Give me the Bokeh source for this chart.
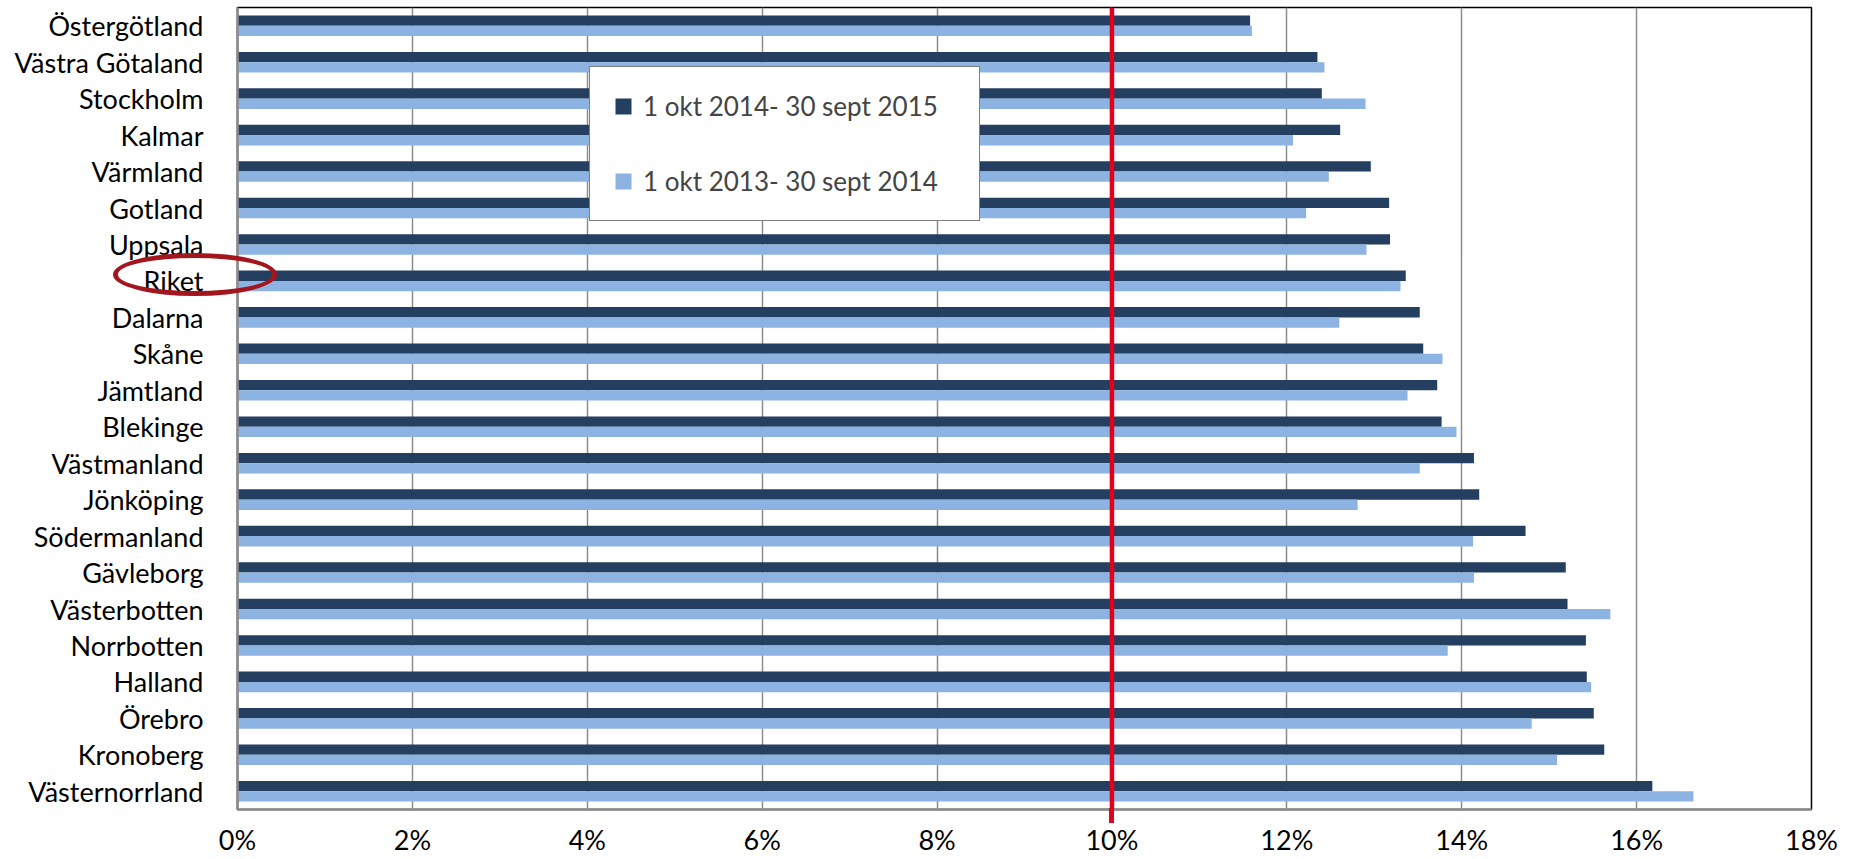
from bokeh.plotting import figure
from bokeh.models import (ColumnDataSource, FactorRange, Range1d, FixedTicker,
                          PrintfTickFormatter, Span, Legend, LegendItem, InlineStyleSheet)
from bokeh.transform import dodge
from bokeh.embed import file_html
from bokeh.resources import INLINE

regions = ["Östergötland", "Västra Götaland", "Stockholm", "Kalmar", "Värmland",
           "Gotland", "Uppsala", "Riket", "Dalarna", "Skåne", "Jämtland", "Blekinge",
           "Västmanland", "Jönköping", "Södermanland", "Gävleborg", "Västerbotten",
           "Norrbotten", "Halland", "Örebro", "Kronoberg", "Västernorrland"]
period_2015 = [11.58, 12.35, 12.40, 12.61, 12.96, 13.17, 13.18, 13.36, 13.52, 13.56, 13.72,
               13.77, 14.14, 14.20, 14.73, 15.19, 15.21, 15.42, 15.43, 15.51, 15.63, 16.18]
period_2014 = [11.60, 12.43, 12.90, 12.07, 12.48, 12.22, 12.91, 13.30, 12.60, 13.78, 13.38,
               13.94, 13.52, 12.81, 14.13, 14.14, 15.70, 13.84, 15.48, 14.80, 15.09, 16.65]
label_2015 = "1 okt 2014- 30 sept 2015"
label_2014 = "1 okt 2013- 30 sept 2014"
x_ticks = [0, 2, 4, 6, 8, 10, 12, 14, 16, 18]
target_line = 10
highlight = "Riket"

FONT = "Lato"
DARK = "#253F60"
LIGHT = "#8DB3E2"
RED = "#E2001A"

W, H = 1851, 859
BL, BR, BT, BB = 237, 40, 7, 50
X0, X1 = 0, 18

src = ColumnDataSource(dict(region=regions, cur=period_2015, prev=period_2014))
factors = list(reversed(regions))

p = figure(width=W, height=H, output_backend="svg", toolbar_location=None,
           y_range=FactorRange(factors=factors), x_range=Range1d(X0, X1),
           min_border_left=BL, min_border_right=BR, min_border_top=BT,
           min_border_bottom=BB)

r1 = p.hbar(y=dodge("region", 0.141, range=p.y_range), left=0, right="cur", height=0.283,
            source=src, fill_color=DARK, line_color=None)
r2 = p.hbar(y=dodge("region", -0.141, range=p.y_range), left=0, right="prev", height=0.283,
            source=src, fill_color=LIGHT, line_color=None)

p.outline_line_color = "black"
p.outline_line_width = 1.5
p.background_fill_color = "white"
p.border_fill_color = "white"

p.ygrid.grid_line_color = None
p.xgrid.grid_line_color = "#8C8C8C"
p.xgrid.grid_line_width = 1.5
p.xaxis.ticker = FixedTicker(ticks=x_ticks)
p.xgrid.ticker = FixedTicker(ticks=x_ticks)
p.xaxis.formatter = PrintfTickFormatter(format="%d%%")

for ax in (p.xaxis[0], p.yaxis[0]):
    ax.axis_line_color = "#8C8C8C"
    ax.axis_line_width = 2.5
    ax.major_tick_line_color = None
    ax.minor_tick_line_color = None
    ax.major_tick_out = 0
    ax.major_tick_in = 0
    ax.minor_tick_out = 0
    ax.major_label_text_font = FONT
    ax.major_label_text_font_size = "27px"
    ax.major_label_text_color = "black"
p.xaxis.major_label_standoff = 13
p.yaxis.major_label_standoff = 34

p.add_layout(Span(location=target_line, dimension="height", line_color=RED,
                  line_width=4.5))

legend = Legend(items=[LegendItem(label=label_2015, renderers=[r1]),
                       LegendItem(label=label_2014, renderers=[r2])],
                location=(352, 588), margin=0, padding=23, spacing=43,
                glyph_width=20, glyph_height=20, label_standoff=10, label_width=313,
                label_text_font=FONT, label_text_font_size="26px",
                border_line_color="black", border_line_width=1.5,
                background_fill_color="white", background_fill_alpha=1.0)
p.add_layout(legend)

# Overlays for the parts that sit outside the frame: the ellipse round "Riket"
# and the short run of the 10 % line below the axis. Positions come from the scales.
frame_w = W - BL - BR
frame_h = H - BT - BB
px_x = frame_w / (X1 - X0)
px_row = frame_h / len(factors)
row_from_top = regions.index(highlight) + 0.5
cx = BL + (-0.48 - X0) * px_x
cy = BT + (row_from_top - 0.17) * px_row
rx = 0.94 * px_x
ry = 0.585 * px_row
line_x = BL + (target_line - X0) * px_x
css = f"""
:host {{ position: relative; }}
:host::after {{
  content: ""; position: absolute; box-sizing: border-box; pointer-events: none; z-index: 50;
  left: {cx - rx:.1f}px; top: {cy - ry:.1f}px; width: {2 * rx:.1f}px; height: {2 * ry:.1f}px;
  border: 5px solid #A3161E; border-radius: 50%;
}}
:host::before {{
  content: ""; display: block; position: absolute; pointer-events: none; z-index: 60;
  left: {line_x - 2.25:.1f}px; top: {BT + frame_h - 1:.1f}px; width: 4.5px; height: 15px;
  background-color: {RED};
}}
"""
p.stylesheets = [InlineStyleSheet(css=css)]

open("out.html", "w").write(file_html(p, INLINE))
